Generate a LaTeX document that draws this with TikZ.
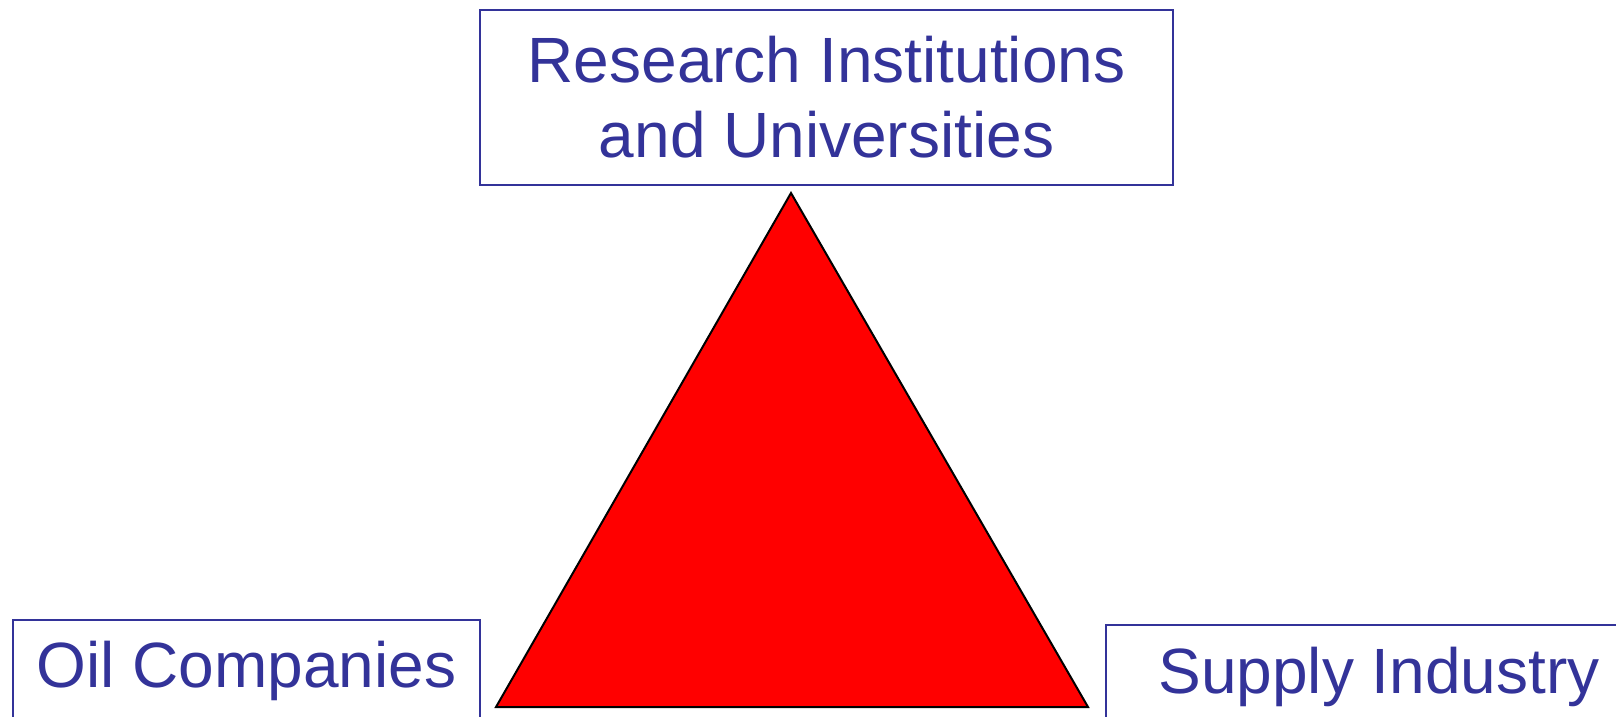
\documentclass[tikz,border=0pt]{standalone}
\usepackage{fontspec}
\setmainfont{Liberation Sans}
\usepackage{tikz}
\usetikzlibrary{positioning}
\definecolor{partnerblue}{RGB}{51,51,153}
\tikzset{partner/.style={draw=partnerblue,line width=1pt,text=partnerblue,inner sep=0pt,align=center,font=\fontsize{32}{37.5}\selectfont}}

\begin{document}
\begin{tikzpicture}[x=0.5pt,y=-0.5pt]
	\useasboundingbox (0,0) rectangle (1616,717);
	% the three partners
	\node [partner,minimum width=346.5pt,minimum height=87.5pt] (research) at (826.5,97.5) {Research Institutions\\and Universities};
	\node [partner,minimum width=233.5pt,minimum height=51pt] (oil) at (246.5,671) {Oil Companies};
	\node [partner,minimum width=273pt,minimum height=52pt] (supply) at (1379,677) {Supply Industry};
	% triangle in between
	\coordinate (apex) at (791,193);
	\coordinate (baseleft) at (496,707);
	\coordinate (baseright) at (1088,707);
	\filldraw [fill=red,draw=black,line width=1pt] (apex) -- (baseleft) -- (baseright) -- cycle;
\end{tikzpicture}
\end{document}
